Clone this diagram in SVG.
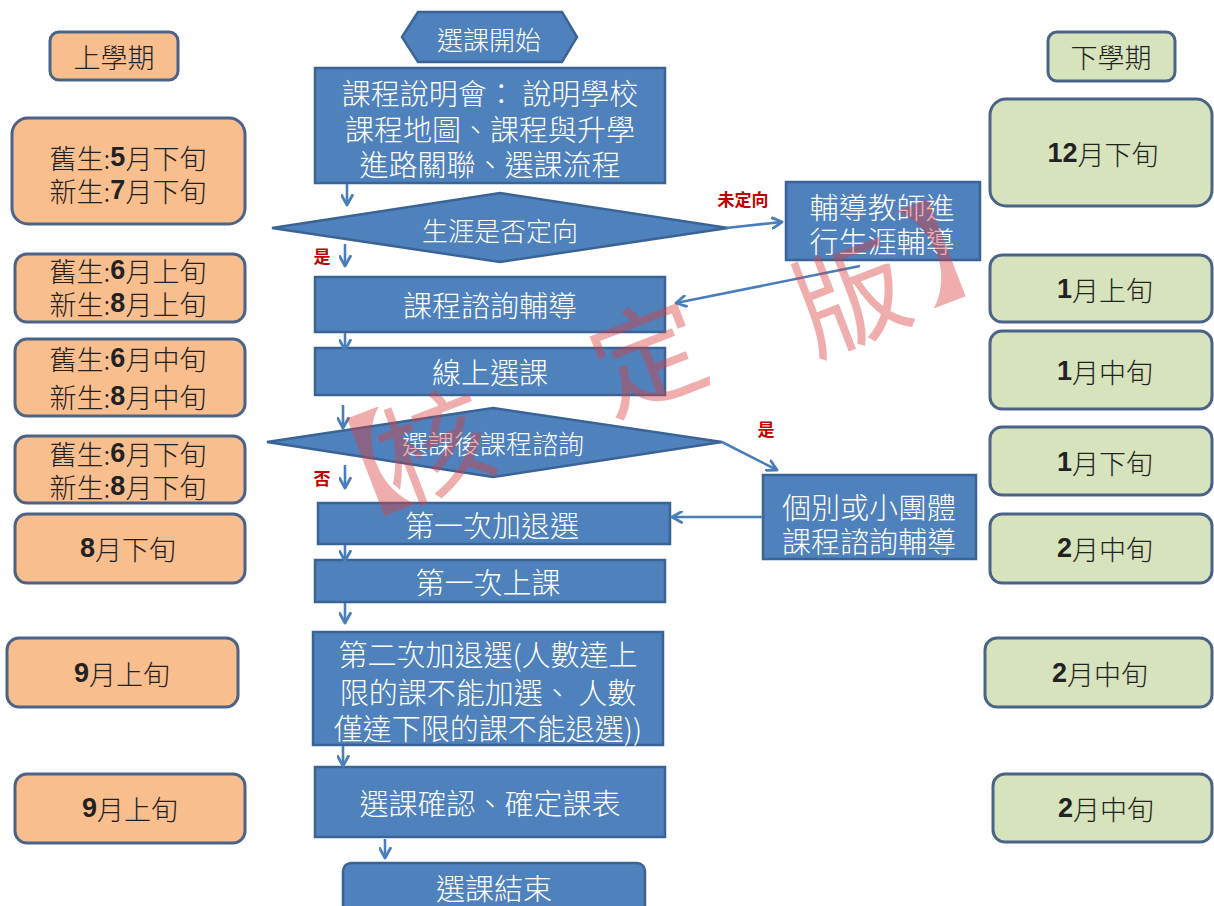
<svg xmlns="http://www.w3.org/2000/svg" width="1214" height="906" viewBox="0 0 1214 906">
<defs>
<marker id="ah" viewBox="0 0 12 12" refX="10" refY="6" markerWidth="13" markerHeight="13" markerUnits="userSpaceOnUse" orient="auto">
<path d="M1,1 L10,6 L1,11" fill="none" stroke="#4a7ebb" stroke-width="2.6" stroke-linecap="round" stroke-linejoin="round"/>
</marker>
<style>
text{font-family:"Noto Sans CJK TC","Noto Sans CJK SC",sans-serif;dominant-baseline:central;text-anchor:middle}
.blue{fill:#4f81bd;stroke:#3a6496;stroke-width:2.5}
.bt{fill:#ffffff;font-size:29px;font-weight:300}
.dt{fill:#ffffff;font-size:26px;font-weight:300}
.or{fill:#f9be8e;stroke:#4a6387;stroke-width:3}
.gr{fill:#d7e3bc;stroke:#4a6387;stroke-width:3}
.lt{fill:#222222;font-size:27px;font-weight:300}
.num{font-family:"Liberation Sans",sans-serif;font-weight:bold}
.conn line{stroke:#4a7ebb;stroke-width:2.6;marker-end:url(#ah)}
.lab{fill:#c00000;font-size:17px;font-weight:bold}
.wm{fill:#dc3c3c;fill-opacity:0.42;font-size:112px}
</style>
</defs>
<rect width="1214" height="906" fill="#ffffff"/>

<!-- left column -->
<g id="sem1"><rect class="or" x="50" y="32" width="128" height="48" rx="9"/><text class="lt" x="114" y="56">上學期</text></g>
<g id="l1"><rect class="or" x="12" y="118" width="233" height="106" rx="16"/><text class="lt" x="128" y="157">舊生:<tspan class="num">5</tspan>月下旬<tspan x="128" dy="33">新生:</tspan><tspan class="num">7</tspan>月下旬</text></g>
<g id="l2"><rect class="or" x="15" y="254" width="230" height="68" rx="12"/><text class="lt" x="128" y="270">舊生:<tspan class="num">6</tspan>月上旬<tspan x="128" dy="33">新生:</tspan><tspan class="num">8</tspan>月上旬</text></g>
<g id="l3"><rect class="or" x="15" y="339" width="230" height="77" rx="12"/><text class="lt" x="128" y="358">舊生:<tspan class="num">6</tspan>月中旬<tspan x="128" dy="38">新生:</tspan><tspan class="num">8</tspan>月中旬</text></g>
<g id="l4"><rect class="or" x="15" y="436" width="230" height="67" rx="12"/><text class="lt" x="128" y="453">舊生:<tspan class="num">6</tspan>月下旬<tspan x="128" dy="33">新生:</tspan><tspan class="num">8</tspan>月下旬</text></g>
<g id="l5"><rect class="or" x="15" y="514" width="230" height="69" rx="12"/><text class="lt" x="128" y="548"><tspan class="num">8</tspan>月下旬</text></g>
<g id="l6"><rect class="or" x="7" y="638" width="231" height="69" rx="12"/><text class="lt" x="122" y="673"><tspan class="num">9</tspan>月上旬</text></g>
<g id="l7"><rect class="or" x="15" y="774" width="230" height="69" rx="12"/><text class="lt" x="130" y="808"><tspan class="num">9</tspan>月上旬</text></g>

<!-- right column -->
<g id="sem2"><rect class="gr" x="1048" y="32" width="127" height="49" rx="9"/><text class="lt" x="1111" y="56">下學期</text></g>
<g id="r1"><rect class="gr" x="990" y="99" width="222" height="107" rx="16"/><text class="lt" x="1103" y="153"><tspan class="num">12</tspan>月下旬</text></g>
<g id="r2"><rect class="gr" x="990" y="255" width="222" height="67" rx="12"/><text class="lt" x="1105" y="289"><tspan class="num">1</tspan>月上旬</text></g>
<g id="r3"><rect class="gr" x="990" y="331" width="222" height="78" rx="12"/><text class="lt" x="1105" y="371"><tspan class="num">1</tspan>月中旬</text></g>
<g id="r4"><rect class="gr" x="990" y="427" width="222" height="68" rx="12"/><text class="lt" x="1105" y="462"><tspan class="num">1</tspan>月下旬</text></g>
<g id="r5"><rect class="gr" x="990" y="514" width="222" height="69" rx="12"/><text class="lt" x="1105" y="548"><tspan class="num">2</tspan>月中旬</text></g>
<g id="r6"><rect class="gr" x="985" y="638" width="227" height="69" rx="12"/><text class="lt" x="1100" y="673"><tspan class="num">2</tspan>月中旬</text></g>
<g id="r7"><rect class="gr" x="993" y="774" width="219" height="68" rx="12"/><text class="lt" x="1106" y="808"><tspan class="num">2</tspan>月中旬</text></g>

<!-- center flow -->
<g id="start"><polygon class="blue" points="402,37 418,12 562,12 577,37 562,62 418,62"/><text class="dt" x="489" y="38">選課開始</text></g>
<g id="n1"><rect class="blue" x="315" y="68" width="350" height="115"/><text class="bt" x="490" y="92">課程說明會： 說明學校<tspan x="490" dy="36">課程地圖、課程與升學</tspan><tspan x="490" dy="35">進路關聯、選課流程</tspan></text></g>
<g id="d1"><polygon class="blue" points="272,228 500,193 728,228 500,262"/><text class="dt" x="500" y="229">生涯是否定向</text></g>
<g id="n2"><rect class="blue" x="315" y="277" width="350" height="55"/><text class="bt" x="490" y="304">課程諮詢輔導</text></g>
<g id="n3"><rect class="blue" x="315" y="348" width="350" height="47"/><text class="bt" x="490" y="371">線上選課</text></g>
<g id="d2"><polygon class="blue" points="267,442 493,408 722,442 493,477"/><text class="dt" x="493" y="442">選課後課程諮詢</text></g>
<g id="n4"><rect class="blue" x="318" y="503" width="352" height="41"/><text class="bt" x="492" y="524">第一次加退選</text></g>
<g id="n5"><rect class="blue" x="315" y="560" width="350" height="42"/><text class="bt" x="488" y="581">第一次上課</text></g>
<g id="n6"><rect class="blue" x="313" y="632" width="350" height="113"/><text class="bt" x="488" y="653">第二次加退選(人數達上<tspan x="488" dy="38">限的課不能加選、 人數</tspan><tspan x="488" dy="36">僅達下限的課不能退選))</tspan></text></g>
<g id="n7"><rect class="blue" x="315" y="767" width="350" height="70"/><text class="bt" x="490" y="802">選課確認、確定課表</text></g>
<g id="end"><rect class="blue" x="343" y="863" width="302" height="60" rx="8"/><text class="bt" x="494" y="887">選課結束</text></g>
<g id="s1"><rect class="blue" x="786" y="182" width="194" height="78"/><text class="bt" x="882" y="206">輔導教師進<tspan x="882" dy="34">行生涯輔導</tspan></text></g>
<g id="s2"><rect class="blue" x="763" y="475" width="213" height="84"/><text class="bt" x="869" y="506">個別或小團體<tspan x="869" dy="34">課程諮詢輔導</tspan></text></g>

<!-- connectors -->
<g id="connectors" class="conn">
<line x1="347" y1="184" x2="347" y2="205"/>
<line x1="345" y1="244" x2="345" y2="266"/>
<line x1="345" y1="333" x2="345" y2="350"/>
<line x1="343" y1="405" x2="343" y2="428"/>
<line x1="345" y1="465" x2="345" y2="488"/>
<line x1="345" y1="545" x2="345" y2="561"/>
<line x1="345" y1="603" x2="345" y2="623"/>
<line x1="343" y1="746" x2="343" y2="766"/>
<line x1="385" y1="839" x2="385" y2="858"/>
<line x1="726" y1="228" x2="782" y2="222"/>
<line x1="860" y1="266" x2="676" y2="303"/>
<line x1="722" y1="442" x2="777" y2="470"/>
<line x1="763" y1="517" x2="672" y2="517"/>
</g>
<g id="labels">
<text class="lab" x="322" y="255">是</text>
<text class="lab" x="322" y="477">否</text>
<text class="lab" x="743" y="198">未定向</text>
<text class="lab" x="766" y="428">是</text>
</g>

<!-- watermark -->
<g id="watermark">
<text class="wm" transform="translate(346,468) rotate(-21)">【</text>
<text class="wm" transform="translate(432,440) rotate(-21)">核</text>
<text class="wm" transform="translate(645,350) rotate(-21)">定</text>
<text class="wm" transform="translate(848,290) rotate(-21)">版</text>
<text class="wm" transform="translate(962,235) rotate(-21)">】</text>
</g>
</svg>
